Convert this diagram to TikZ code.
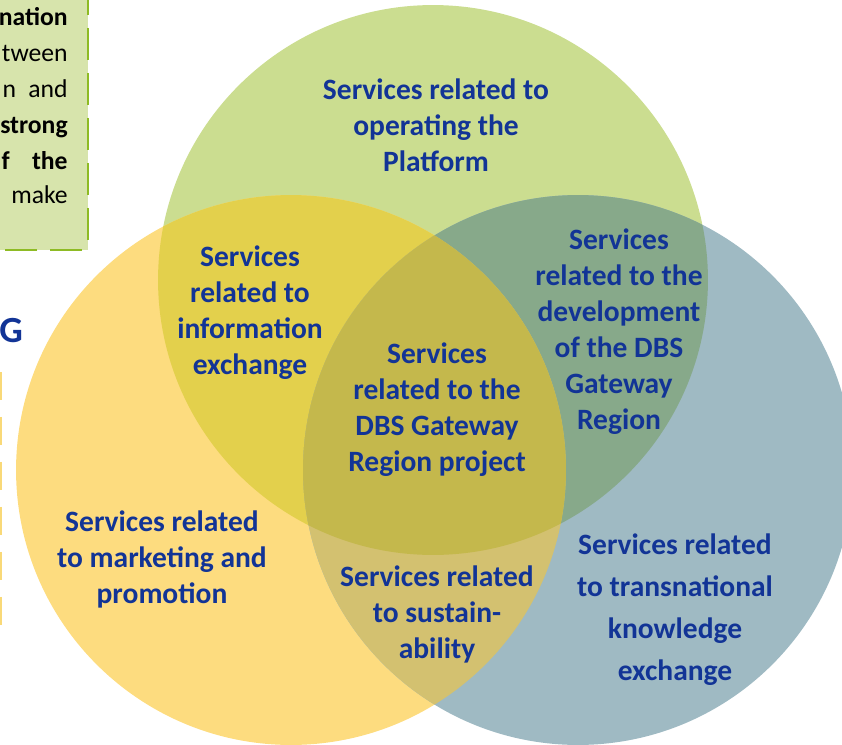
\documentclass[tikz,border=0pt]{standalone}
\usepackage{fontspec}
\setmainfont{Carlito}
\usetikzlibrary{positioning}
\definecolor{greencirc}{RGB}{203,221,144}
\definecolor{yellowcirc}{RGB}{253,220,127}
\definecolor{bluecirc}{RGB}{159,186,195}
\definecolor{greenyellow}{RGB}{227,208,76}
\definecolor{greenblue}{RGB}{135,169,138}
\definecolor{yellowblue}{RGB}{211,193,112}
\definecolor{allthree}{RGB}{196,184,76}
\definecolor{servblue}{RGB}{18,52,150}
\definecolor{boxfill}{RGB}{215,228,172}
\definecolor{boxedge}{RGB}{142,187,36}
\definecolor{goldedge}{RGB}{249,217,120}
\tikzstyle{service} = [align=center, text=servblue, inner sep=0pt,
    font=\fontsize{16.8}{20.5}\selectfont\bfseries]
\tikzstyle{boxline} = [anchor=base east, inner sep=0pt,
    font=\fontsize{14.6}{17}\selectfont]
\tikzstyle{boxbold} = [boxline, font=\fontsize{14.6}{17}\selectfont\bfseries]
\tikzstyle{dashedge} = [line width=1.7pt, dash pattern=on 0.64cm off 0.26cm]

\begin{document}
\begin{tikzpicture}[x=0.02cm, y=-0.02cm]
    \useasboundingbox (0,0) rectangle (842,744);
    \clip (0,0) rectangle (842,744);
    \coordinate (green) at (433,280);
    \coordinate (yellow) at (291,470);
    \coordinate (blue) at (578,470);
    % the three circles
    \fill [greencirc] (green) circle (5.5cm);
    \fill [yellowcirc] (yellow) circle (5.5cm);
    \fill [bluecirc] (blue) circle (5.5cm);
    \begin{scope}
        \clip (green) circle (5.5cm);
        \fill [greenyellow] (yellow) circle (5.5cm);
        \fill [greenblue] (blue) circle (5.5cm);
    \end{scope}
    \begin{scope}
        \clip (yellow) circle (5.5cm);
        \fill [yellowblue] (blue) circle (5.5cm);
    \end{scope}
    \begin{scope}
        \clip (green) circle (5.5cm);
        \clip (yellow) circle (5.5cm);
        \fill [allthree] (blue) circle (5.5cm);
    \end{scope}
    % info box, cut at the left
    \fill [boxfill] (-20,-20) rectangle (88,250);
    \draw [dashedge, draw=boxedge] (88,-17) -- (88,250);
    \draw [dashedge, draw=boxedge] (82,250) -- (-20,250);
    \node [boxbold] at (68,25) (line1) {nation};
    \node [boxline] at (68,61) (line2) {tween};
    \node [boxline] at (68,97) (line3) {\makebox[1.3cm][s]{n\hfill and}};
    \node [boxbold] at (68,133) (line4) {strong};
    \node [boxbold] at (68,169) (line5) {\makebox[1.32cm][s]{f\hfill the}};
    \node [boxline] at (68,203) (line6) {make};
    \node [anchor=base west, inner sep=0pt, text=servblue,
        font=\fontsize{21}{24}\selectfont\bfseries] at (-1,342) (heading) {G};
    \draw [line width=2pt, draw=goldedge, dash pattern=on 0.56cm off 0.34cm]
        (0.5,372) -- (0.5,640);
    % services
    \node [service] at (436,125) (platform) {Services related to\\operating the\\Platform};
    \node [service] at (250,313) (info) {Services\\related to\\information\\exchange};
    \node [service] at (437,410) (project) {Services\\related to the\\DBS Gateway\\Region project};
    \node [service] at (619,332) (develop) {Services\\related to the\\development\\of the DBS\\Gateway\\Region};
    \node [service] at (162,559) (marketing) {Services related\\to marketing and\\promotion};
    \node [service] at (437,614) (sustain) {Services related\\to sustain-\\ability};
    \node [service, font=\fontsize{16.8}{23.9}\selectfont\bfseries] at (675,610) (knowledge)
        {Services related\\to transnational\\knowledge\\exchange};
\end{tikzpicture}
\end{document}
